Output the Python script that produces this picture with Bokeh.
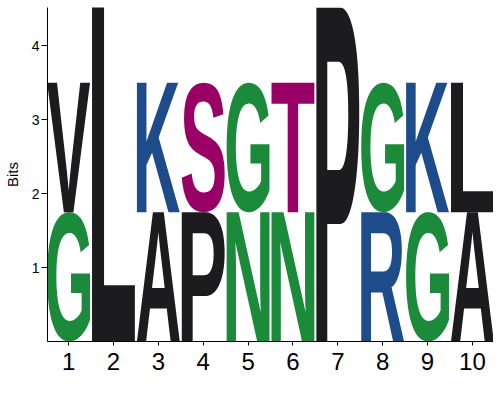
import glob
import os
import struct

from bokeh.plotting import figure
from bokeh.models import FixedTicker, Range1d
from bokeh.embed import file_html
from bokeh.resources import INLINE

# sequence logo: two stacked letters per position (bottom first), heights in bits
positions = [1, 2, 3, 4, 5, 6, 7, 8, 9, 10]
lower_letters = ["G", "L", "A", "P", "N", "N", "P", "R", "G", "A"]
lower_bits = [1.75, 4.7, 1.75, 1.75, 1.75, 1.75, 4.52, 1.75, 1.75, 1.75]
upper_letters = ["V", "", "K", "S", "G", "T", "", "G", "K", "L"]
upper_bits = [1.75, 0.0, 1.75, 1.75, 1.75, 1.75, 0.0, 1.75, 1.75, 1.75]
y_ticks = [1, 2, 3, 4]

GREEN = "#1b8a3b"
BLUE = "#1e4b8a"
MAGENTA = "#990066"
BLACK = "#1c1b1e"
letter_colors = {"G": GREEN, "N": GREEN, "K": BLUE, "R": BLUE,
                 "S": MAGENTA, "T": MAGENTA}

LETTER_WIDTH = 0.955


# --- minimal TrueType reader, used to get the letter outlines ---
def find_font():
    names = ["LiberationSans-Bold.ttf", "Arial_Bold.ttf", "DejaVuSans-Bold.ttf",
             "Roboto-Bold.ttf", "NotoSans-Bold.ttf"]
    dirs = ["/usr/share/fonts", "/usr/local/share/fonts",
            os.path.expanduser("~/.fonts"), os.path.expanduser("~/.local/share/fonts")]
    for n in names:
        for d in dirs:
            hits = glob.glob(os.path.join(d, "**", n), recursive=True)
            if hits:
                return hits[0]
    for d in dirs:
        hits = glob.glob(os.path.join(d, "**", "*Bold*.ttf"), recursive=True)
        if hits:
            return hits[0]
    raise SystemExit("no font found")


class TTF:
    def __init__(self, path):
        self.d = open(path, "rb").read()
        base = 0
        if self.d[:4] == b"ttcf":
            base = self.u32(12)
        n = self.u16(base + 4)
        self.t = {}
        for i in range(n):
            r = base + 12 + 16 * i
            self.t[self.d[r:r + 4].decode("latin-1")] = self.u32(r + 8)
        loc_fmt = self.i16(self.t["head"] + 50)
        ng = self.u16(self.t["maxp"] + 4)
        lo = self.t["loca"]
        if loc_fmt == 0:
            self.loca = [self.u16(lo + 2 * i) * 2 for i in range(ng + 1)]
        else:
            self.loca = [self.u32(lo + 4 * i) for i in range(ng + 1)]
        cm = self.t["cmap"]
        self.sub = None
        for i in range(self.u16(cm + 2)):
            pid, eid, off = struct.unpack(">HHI", self.d[cm + 4 + 8 * i:cm + 12 + 8 * i])
            fmt = self.u16(cm + off)
            if fmt in (4, 12) and (pid == 0 or (pid == 3 and eid in (1, 10))):
                self.sub = cm + off
                if fmt == 12:
                    break

    def u16(self, p):
        return struct.unpack(">H", self.d[p:p + 2])[0]

    def i16(self, p):
        return struct.unpack(">h", self.d[p:p + 2])[0]

    def u32(self, p):
        return struct.unpack(">I", self.d[p:p + 4])[0]

    def gid(self, ch):
        c = ord(ch)
        s = self.sub
        if self.u16(s) == 12:
            for i in range(self.u32(s + 12)):
                a, b, g = struct.unpack(">III", self.d[s + 16 + 12 * i:s + 28 + 12 * i])
                if a <= c <= b:
                    return g + c - a
            return 0
        seg2 = self.u16(s + 6)
        ends = s + 14
        starts = ends + seg2 + 2
        deltas = starts + seg2
        ranges = deltas + seg2
        for i in range(seg2 // 2):
            if c <= self.u16(ends + 2 * i):
                st = self.u16(starts + 2 * i)
                if c < st:
                    return 0
                dl = self.u16(deltas + 2 * i)
                ro = self.u16(ranges + 2 * i)
                if ro == 0:
                    return (c + dl) & 0xFFFF
                g = self.u16(ranges + 2 * i + ro + 2 * (c - st))
                return (g + dl) & 0xFFFF if g else 0
        return 0

    def points(self, g):
        """list of contours, each a list of (x, y, on_curve)"""
        a, b = self.loca[g], self.loca[g + 1]
        if a == b:
            return []
        p = self.t["glyf"] + a
        nc = self.i16(p)
        if nc < 0:
            out = []
            q = p + 10
            while True:
                fl, cg = self.u16(q), self.u16(q + 2)
                q += 4
                if fl & 1:
                    dx, dy = self.i16(q), self.i16(q + 2)
                    q += 4
                else:
                    dx, dy = struct.unpack(">bb", self.d[q:q + 2])
                    q += 2
                if fl & 0x8:
                    q += 2
                elif fl & 0x40:
                    q += 4
                elif fl & 0x80:
                    q += 8
                for c in self.points(cg):
                    out.append([(x + dx, y + dy, o) for x, y, o in c])
                if not fl & 0x20:
                    break
            return out
        ends = [self.u16(p + 10 + 2 * i) for i in range(nc)]
        npts = ends[-1] + 1
        q = p + 12 + 2 * nc + self.u16(p + 10 + 2 * nc)
        flags = []
        while len(flags) < npts:
            f = self.d[q]
            q += 1
            flags.append(f)
            if f & 8:
                flags.extend([f] * self.d[q])
                q += 1
        xs, ys = [], []
        for arr, short, same in ((xs, 2, 16), (ys, 4, 32)):
            v = 0
            for f in flags:
                if f & short:
                    dv = self.d[q]
                    q += 1
                    v += dv if f & same else -dv
                elif not f & same:
                    v += self.i16(q)
                    q += 2
                arr.append(v)
        out, s = [], 0
        for e in ends:
            out.append([(xs[i], ys[i], flags[i] & 1) for i in range(s, e + 1)])
            s = e + 1
        return out


def flatten(contour, steps=10):
    seq = []
    n = len(contour)
    for i in range(n):
        x, y, o = contour[i]
        nx, ny, no = contour[(i + 1) % n]
        seq.append((x, y, o))
        if not o and not no:
            seq.append(((x + nx) / 2, (y + ny) / 2, 1))
    k = next(i for i, s in enumerate(seq) if s[2])
    seq = seq[k:] + seq[:k]
    m = len(seq)
    pts = []
    i = 0
    while i < m:
        x0, y0, _ = seq[i]
        pts.append((x0, y0))
        x1, y1, o1 = seq[(i + 1) % m]
        if not o1:
            x2, y2, _ = seq[(i + 2) % m]
            for j in range(1, steps):
                t = j / steps
                pts.append(((1 - t) ** 2 * x0 + 2 * t * (1 - t) * x1 + t * t * x2,
                            (1 - t) ** 2 * y0 + 2 * t * (1 - t) * y1 + t * t * y2))
            i += 2
        else:
            i += 1
    return pts


def area(poly):
    return 0.5 * sum(poly[i][0] * poly[i - 1][1] - poly[i - 1][0] * poly[i][1]
                     for i in range(len(poly)))


def inside(pt, poly):
    x, y = pt
    res = False
    for i in range(len(poly)):
        x1, y1 = poly[i - 1]
        x2, y2 = poly[i]
        if (y1 > y) != (y2 > y) and x < x1 + (y - y1) * (x2 - x1) / (y2 - y1):
            res = not res
    return res


font = TTF(find_font())
shapes = {}


def letter_shape(ch):
    if ch not in shapes:
        polys = [flatten(c) for c in font.points(font.gid(ch))]
        big = max(polys, key=lambda pl: abs(area(pl)))
        sign = area(big) > 0
        outers = [pl for pl in polys if (area(pl) > 0) == sign]
        holes = [pl for pl in polys if (area(pl) > 0) != sign]
        groups = [[o] for o in outers]
        for h in holes:
            for g in groups:
                if inside(h[0], g[0]):
                    g.append(h)
                    break
        allx = [x for pl in polys for x, _ in pl]
        ally = [y for pl in polys for _, y in pl]
        shapes[ch] = (groups, min(allx), max(allx), min(ally), max(ally))
    return shapes[ch]


xs, ys, colors = [], [], []
for pos, stack in zip(positions, zip(zip(lower_letters, lower_bits),
                                     zip(upper_letters, upper_bits))):
    base = 0.0
    for ch, h in stack:
        if not ch or h <= 0:
            continue
        groups, x0, x1, y0, y1 = letter_shape(ch)
        left = pos - LETTER_WIDTH / 2
        gx, gy = [], []
        for g in groups:
            rx, ry = [], []
            for ring in g:
                rx.append([left + (x - x0) / (x1 - x0) * LETTER_WIDTH for x, _ in ring])
                ry.append([base + (y - y0) / (y1 - y0) * h for _, y in ring])
            gx.append(rx)
            gy.append(ry)
        xs.append(gx)
        ys.append(gy)
        colors.append(letter_colors.get(ch, BLACK))
        base += h

p = figure(frame_width=446, frame_height=334, output_backend="svg",
           toolbar_location=None, x_range=Range1d(0.53, 10.47),
           y_range=Range1d(0, 4.52), min_border_left=42, min_border_top=7,
           min_border_right=0, min_border_bottom=50)
p.multi_polygons(xs=xs, ys=ys, fill_color=colors, line_color=None)

p.outline_line_color = None
p.background_fill_color = "white"
p.border_fill_color = "white"
p.grid.grid_line_color = None

p.xaxis.ticker = FixedTicker(ticks=positions)
p.yaxis.ticker = FixedTicker(ticks=y_ticks)
for ax in (p.xaxis[0], p.yaxis[0]):
    ax.axis_line_color = "black"
    ax.major_tick_line_color = "black"
    ax.minor_tick_line_color = None
    ax.major_tick_in = 0
    ax.major_label_text_color = "black"
    ax.major_label_text_font = "Liberation Sans"
p.xaxis.major_tick_out = 4
p.xaxis.major_label_standoff = 7
p.xaxis.major_label_text_font_size = "24px"
p.yaxis.major_tick_out = 6
p.yaxis.major_label_standoff = 2
p.yaxis.major_label_text_font_size = "14px"
p.yaxis.axis_label = "Bits"
p.yaxis.axis_label_text_font = "Liberation Sans"
p.yaxis.axis_label_text_font_style = "normal"
p.yaxis.axis_label_text_font_size = "15px"
p.yaxis.axis_label_text_color = "black"
p.yaxis.axis_label_standoff = 8

open("out.html", "w").write(file_html(p, INLINE))
